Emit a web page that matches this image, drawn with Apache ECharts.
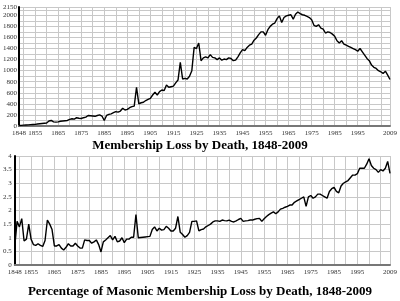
<!DOCTYPE html>
<html>
<head>
<meta charset="utf-8">
<script src="https://cdn.jsdelivr.net/npm/echarts@6/dist/echarts.min.js"></script>
<style>
html, body { margin: 0; padding: 0; background: #fff; }
#chart { width: 400px; height: 301px; }
</style>
</head>
<body>
<div id="chart"></div>
<script>
// years 1848..2009
var years = [];
for (var y = 1848; y <= 2009; y++) years.push(String(y));

// members lost by death, per year
var deaths = [
  10, 12, 15, 18, 20, 25, 28, 30, 35, 40, 45, 50,            // 1848-1859
  55, 90, 100, 75, 70, 75, 85, 90, 95, 100,                  // 1860-1869
  120, 130, 125, 150, 140, 135, 150, 160, 190, 185,          // 1870-1879
  180, 175, 190, 200, 180, 100, 190, 210, 220, 240,          // 1880-1889
  260, 250, 270, 320, 290, 300, 330, 350, 360, 700,          // 1890-1899
  400, 420, 430, 460, 480, 500, 560, 610, 560, 620,          // 1900-1909
  650, 640, 740, 700, 710, 720, 780, 830, 1150, 850,         // 1910-1919
  860, 850, 900, 1000, 1420, 1400, 1500, 1180, 1230, 1250,   // 1920-1929
  1230, 1290, 1240, 1230, 1200, 1230, 1190, 1210, 1200, 1230, // 1930-1939
  1220, 1180, 1190, 1250, 1320, 1380, 1360, 1420, 1460, 1480, // 1940-1949
  1550, 1590, 1650, 1700, 1700, 1640, 1740, 1800, 1840, 1860, // 1950-1959
  1940, 1990, 1870, 1960, 1990, 2000, 2010, 1930, 2020, 2060, // 1960-1969
  2030, 2010, 2000, 1980, 1960, 1920, 1820, 1800, 1830, 1770, // 1970-1979
  1750, 1680, 1700, 1690, 1660, 1620, 1540, 1500, 1540, 1480, // 1980-1989
  1460, 1440, 1420, 1400, 1380, 1350, 1400, 1340, 1280, 1220, // 1990-1999
  1180, 1100, 1060, 1040, 1000, 980, 950, 990, 920, 840       // 2000-2009
];

// percentage of membership lost by death
var pctLoss = [
  0.67, 1.6, 1.4, 1.7, 0.88, 0.95, 1.5, 0.95, 0.75, 0.72, 0.78, 0.72,
  0.68, 0.9, 1.65, 1.5, 1.3, 0.7, 0.7, 0.75, 0.62, 0.55,
  0.65, 0.78, 0.7, 0.7, 0.8, 0.7, 0.62, 0.62, 0.92, 0.9,
  0.9, 0.8, 0.85, 0.92, 0.75, 0.48, 0.85, 0.92, 1.0, 1.08,
  0.92, 1.05, 0.85, 0.88, 1.0, 0.82, 0.95, 0.95, 1.02, 1.02,
  1.85, 1.0, 1.01, 1.02, 1.03, 1.04, 1.05, 1.3, 1.4, 1.25,
  1.35, 1.28, 1.3, 1.42, 1.35, 1.25, 1.25, 1.35, 1.78, 1.2,
  1.12, 1.02, 1.08, 1.2, 1.6, 1.6, 1.62, 1.25, 1.3, 1.32,
  1.4, 1.45, 1.5, 1.58, 1.62, 1.62, 1.6, 1.65, 1.63, 1.62,
  1.65, 1.6, 1.58, 1.62, 1.67, 1.71, 1.6, 1.62, 1.63, 1.65,
  1.65, 1.68, 1.7, 1.71, 1.6, 1.7, 1.78, 1.85, 1.9, 1.95,
  1.88, 1.95, 2.05, 2.08, 2.12, 2.15, 2.2, 2.2, 2.3, 2.35,
  2.4, 2.45, 2.5, 2.15, 2.5, 2.55, 2.45, 2.5, 2.6, 2.6,
  2.55, 2.5, 2.45, 2.7, 2.8, 2.85, 2.7, 2.65, 2.9, 3.0,
  3.05, 3.1, 3.2, 3.3, 3.3, 3.35, 3.55, 3.55, 3.55, 3.7,
  3.9, 3.65, 3.55, 3.5, 3.4, 3.5, 3.45, 3.55, 3.8, 3.36
];

var topTitle = "Membership Loss by Death, 1848-2009";
var bottomTitle = "Percentage of Masonic Membership Loss by Death, 1848-2009";

var labelFont = { fontFamily: "Liberation Serif", fontSize: 7, color: "#333" };

function showYearLabel(i, v) {
  var n = +v;
  return n === 1848 || n === 2009 || (n >= 1855 && n <= 1995 && (n - 1855) % 10 === 0);
}
function showYearLine(i, v) {
  var n = +v;
  return n % 5 === 0 || n === 2009;
}

function xAxisFor(gridIndex) {
  return {
    type: "category",
    gridIndex: gridIndex,
    data: years,
    boundaryGap: false,
    axisLine: { lineStyle: { color: "#777", width: 2 } },
    axisTick: { show: false },
    axisLabel: Object.assign({ interval: showYearLabel, margin: 4 }, labelFont),
    splitLine: { show: true, interval: showYearLine, lineStyle: { color: "#c8c8c8", width: 1 } }
  };
}

var myChart = echarts.init(document.getElementById("chart"));
myChart.setOption({
  animation: false,
  backgroundColor: "#fff",
  title: [
    {
      text: topTitle, left: "center", top: 134,
      textStyle: { fontFamily: "Liberation Serif", fontWeight: "bold", fontSize: 13, color: "#000" }
    },
    {
      text: bottomTitle, left: "center", top: 280,
      textStyle: { fontFamily: "Liberation Serif", fontWeight: "bold", fontSize: 13, color: "#000" }
    }
  ],
  grid: [
    { left: 15, right: 8, top: 7, bottom: 175 },
    { left: 11, right: 7, top: 156, bottom: 36 }
  ],
  xAxis: [xAxisFor(0), xAxisFor(1)],
  yAxis: [
    {
      type: "value", gridIndex: 0, min: 0, max: 2150, interval: 100,
      axisLine: { show: true, lineStyle: { color: "#000", width: 2 } },
      axisTick: { show: false },
      axisLabel: Object.assign({
        margin: 2,
        formatter: function (v) { return (v % 200 === 0 || v === 2150) ? String(v) : ""; }
      }, labelFont),
      splitLine: { lineStyle: { color: "#c8c8c8", width: 1 } }
    },
    {
      type: "value", gridIndex: 1, min: 0, max: 4, interval: 0.5,
      axisLine: { show: true, lineStyle: { color: "#000", width: 2 } },
      axisTick: { show: false },
      axisLabel: Object.assign({ margin: 3 }, labelFont),
      splitLine: { lineStyle: { color: "#c8c8c8", width: 1 } }
    }
  ],
  series: [
    {
      type: "line", xAxisIndex: 0, yAxisIndex: 0, data: deaths,
      symbol: "none", lineStyle: { color: "#000", width: 1.4 }
    },
    {
      type: "line", xAxisIndex: 1, yAxisIndex: 1, data: pctLoss,
      symbol: "none", lineStyle: { color: "#000", width: 1.4 }
    }
  ]
});
window.addEventListener("resize", function () {
  myChart.resize();
});
</script>
</body>
</html>
